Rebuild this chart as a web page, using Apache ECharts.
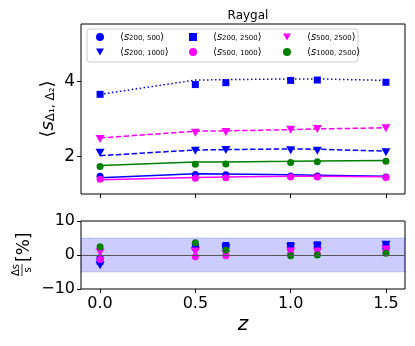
<!DOCTYPE html>
<html>
<head>
<meta charset="utf-8">
<script src="https://cdn.jsdelivr.net/npm/echarts@6/dist/echarts.min.js"></script>
<style>
  html, body { margin: 0; padding: 0; background: #fff; }
  #chart { width: 415px; height: 346px; }
</style>
</head>
<body>
<div id="chart"></div>
<script>
// redshift of the snapshots
var zValues = [0, 0.5, 0.66, 1.0, 1.14, 1.5];
var zTicks = [0, 0.5, 1.0, 1.5];
var sTicks = [2, 4];
var dTicks = [-10, 0, 10];

// <s> measured (markers)
var s200_500 = [1.47, 1.52, 1.51, 1.48, 1.48, 1.45];
var s200_1000 = [2.10, 2.15, 2.17, 2.16, 2.15, 2.11];
var s200_2500 = [3.65, 3.91, 3.96, 4.02, 4.03, 3.97];
var s500_1000 = [1.39, 1.42, 1.43, 1.45, 1.45, 1.44];
var s500_2500 = [2.46, 2.63, 2.65, 2.71, 2.73, 2.75];
var s1000_2500 = [1.73, 1.79, 1.80, 1.84, 1.86, 1.87];

// <s> prediction (lines)
var p200_500 = [1.43, 1.54, 1.53, 1.51, 1.50, 1.47];
var p200_1000 = [2.02, 2.17, 2.18, 2.20, 2.19, 2.14];
var p200_2500 = [3.65, 4.03, 4.04, 4.06, 4.06, 4.02];
var p500_1000 = [1.38, 1.44, 1.45, 1.47, 1.47, 1.46];
var p500_2500 = [2.49, 2.67, 2.68, 2.71, 2.73, 2.76];
var p1000_2500 = [1.76, 1.85, 1.85, 1.87, 1.88, 1.89];

// relative difference in %
var d200_500 = [-0.8, 2.0, 2.5, 1.8, 2.0, 2.2];
var d200_1000 = [-3.0, 1.2, 2.0, 2.3, 2.5, 3.0];
var d200_2500 = [-1.8, 2.5, 2.8, 2.8, 3.0, 2.5];
var d500_1000 = [-1.3, -0.5, -0.2, 0.3, 0.3, 1.2];
var d500_2500 = [0.8, 1.0, 0.3, 1.0, 1.0, 1.6];
var d1000_2500 = [2.4, 3.6, 1.5, -0.2, 0.0, 0.5];

var seriesNames = ["s200_500", "s200_1000", "s200_2500", "s500_1000", "s500_2500", "s1000_2500"];
var seriesSubs = ["200, 500", "200, 1000", "200, 2500", "500, 1000", "500, 2500", "1000, 2500"];

var FONT = "DejaVu Sans";
var TRI_DOWN = "path://M0,0 L10,0 L5,9 Z";

var chart = echarts.init(document.getElementById("chart"), null, { renderer: "canvas" });

function pairs(ys) {
  return zValues.map(function(z, i) { return [z, ys[i]]; });
}

var looks = [
  { color: "#0000ff", symbol: "circle", size: 7, line: "solid" },
  { color: "#0000ff", symbol: TRI_DOWN, size: [9, 8], line: [5.5, 2.4] },
  { color: "#0000ff", symbol: "rect", size: 7, line: [1.5, 2.5] },
  { color: "#ff00ff", symbol: "circle", size: 7, line: "solid" },
  { color: "#ff00ff", symbol: TRI_DOWN, size: [9, 8], line: [5.5, 2.4] },
  { color: "#008000", symbol: "circle", size: 7, line: "solid" }
];
var measured = [s200_500, s200_1000, s200_2500, s500_1000, s500_2500, s1000_2500];
var predicted = [p200_500, p200_1000, p200_2500, p500_1000, p500_2500, p1000_2500];
var diffs = [d200_500, d200_1000, d200_2500, d500_1000, d500_2500, d1000_2500];

var series = [];
// lines first, markers on top
predicted.forEach(function(ys, i) {
  series.push({
    name: seriesNames[i] + "_fit",
    type: "line",
    xAxisIndex: 0,
    yAxisIndex: 0,
    data: pairs(ys),
    showSymbol: false,
    silent: true,
    lineStyle: { color: looks[i].color, width: 1.5, type: looks[i].line },
    z: 2
  });
});
measured.forEach(function(ys, i) {
  series.push({
    name: seriesNames[i],
    type: "scatter",
    xAxisIndex: 0,
    yAxisIndex: 0,
    data: pairs(ys),
    symbol: looks[i].symbol,
    symbolSize: looks[i].size,
    itemStyle: { color: looks[i].color, opacity: 1 },
    z: 3
  });
});
diffs.forEach(function(ys, i) {
  var s = {
    name: seriesNames[i] + "_diff",
    type: "scatter",
    xAxisIndex: 1,
    yAxisIndex: 1,
    data: pairs(ys),
    symbol: looks[i].symbol,
    symbolSize: looks[i].size,
    itemStyle: { color: looks[i].color, opacity: 1 },
    z: 3
  };
  if (i == 0) {
    s.markArea = {
      silent: true,
      itemStyle: {
        color: "rgba(0,0,255,0.2)",
        borderColor: "rgba(0,0,255,0.25)",
        borderWidth: 1,
        borderType: "dotted"
      },
      data: [[{ yAxis: -5 }, { yAxis: 5 }]]
    };
    s.markLine = {
      silent: true,
      symbol: "none",
      label: { show: false },
      lineStyle: { color: "#555", width: 1, type: "solid" },
      data: [{ yAxis: 0 }]
    };
  }
  series.push(s);
});

var legendRich = {
  b: { fontFamily: FONT, fontSize: 10, color: "#000", padding: [0, 0, 0, 11] },
  s: { fontFamily: FONT, fontSize: 10, fontStyle: "italic", color: "#000" },
  sub: { fontFamily: FONT, fontSize: 7, color: "#000", lineHeight: 7, verticalAlign: "bottom" },
  e: { fontFamily: FONT, fontSize: 10, color: "#000" }
};

// legend: 3 columns, filled column by column
var legendPos = [[96, 32], [96, 47], [189, 32], [189, 47], [283, 32], [283, 47]];
var legends = seriesNames.map(function(name, i) {
  return {
    data: [name],
    left: legendPos[i][0],
    top: legendPos[i][1],
    padding: 0,
    itemWidth: 8,
    itemHeight: 8,
    selectedMode: false,
    z: 5,
    formatter: function() {
      return "{b|\u27e8}{s|s}{sub|" + seriesSubs[i] + "}{e|\u27e9}";
    },
    textStyle: { rich: legendRich }
  };
});

var option = {
  backgroundColor: "#fff",
  animation: false,
  textStyle: { fontFamily: FONT },
  title: {
    text: "Raygal",
    left: 243,
    top: 5,
    textAlign: "center",
    textStyle: { fontFamily: FONT, fontSize: 12, fontWeight: "normal", color: "#000" }
  },
  legend: legends,
  grid: [
    { left: 81, top: 24, width: 324, height: 170, show: true, borderColor: "#000", borderWidth: 1, backgroundColor: "transparent" },
    { left: 81, top: 221, width: 324, height: 68, show: true, borderColor: "#000", borderWidth: 1, backgroundColor: "transparent" }
  ],
  xAxis: [
    {
      gridIndex: 0,
      type: "value",
      min: -0.1,
      max: 1.6,
      axisLine: { show: false, onZero: false },
      splitLine: { show: false },
      axisTick: { show: true, inside: false, length: 4, customValues: zTicks, lineStyle: { color: "#000" } },
      axisLabel: { show: false }
    },
    {
      gridIndex: 1,
      type: "value",
      min: -0.1,
      max: 1.6,
      axisLine: { show: false, onZero: false },
      splitLine: { show: false },
      axisTick: { show: true, inside: false, length: 4, customValues: zTicks, lineStyle: { color: "#000" } },
      axisLabel: {
        customValues: zTicks,
        margin: 7,
        fontFamily: FONT,
        fontSize: 16,
        color: "#000",
        formatter: function(v) { return v.toFixed(1); }
      },
      name: "z",
      nameLocation: "middle",
      nameGap: 26,
      nameTextStyle: { fontFamily: FONT, fontSize: 20, fontStyle: "italic", color: "#000" }
    }
  ],
  yAxis: [
    {
      gridIndex: 0,
      type: "value",
      min: 1.0,
      max: 5.52,
      axisLine: { show: false, onZero: false },
      splitLine: { show: false },
      axisTick: { show: true, inside: false, length: 4, customValues: sTicks, lineStyle: { color: "#000" } },
      axisLabel: { customValues: sTicks, margin: 6, fontFamily: FONT, fontSize: 17, color: "#000" }
    },
    {
      gridIndex: 1,
      type: "value",
      min: -10,
      max: 10,
      interval: 10,
      axisLine: { show: false, onZero: false },
      splitLine: { show: false },
      axisTick: { show: true, inside: false, length: 4, customValues: dTicks, lineStyle: { color: "#000" } },
      axisLabel: {
        customValues: dTicks,
        margin: 6,
        fontFamily: FONT,
        fontSize: 16,
        color: "#000",
        formatter: function(v) { return v < 0 ? "\u2212" + Math.abs(v) : String(v); }
      }
    }
  ],
  graphic: [
    {
      type: "rect",
      z: 4,
      shape: { x: 87, y: 29, width: 271, height: 33, r: 3 },
      style: { fill: "rgba(255,255,255,0.8)", stroke: "#ccc", lineWidth: 1 }
    },
    {
      // top y label  <s_{Δ1,Δ2}>
      type: "text",
      x: 48,
      y: 109,
      rotation: Math.PI / 2,
      style: {
        text: "{b|\u27e8}{s|s}{sub|\u0394\u2081, \u0394\u2082}{b|\u27e9}",
        align: "center",
        verticalAlign: "middle",
        rich: {
          b: { fontFamily: FONT, fontSize: 18, fill: "#000" },
          s: { fontFamily: FONT, fontSize: 18, fontStyle: "italic", fill: "#000" },
          sub: { fontFamily: FONT, fontSize: 12, fill: "#000", lineHeight: 10, verticalAlign: "bottom" }
        }
      }
    },
    {
      // bottom y label  Δs/s [%]
      type: "group",
      x: 25,
      y: 255,
      rotation: Math.PI / 2,
      children: [
        { type: "text", x: -15, y: -4, style: { text: "\u0394s", fontFamily: FONT, fontSize: 10, fill: "#000", align: "center", verticalAlign: "bottom" } },
        { type: "line", shape: { x1: -21, y1: -3, x2: -9, y2: -3 }, style: { stroke: "#000", lineWidth: 0.8 } },
        { type: "text", x: -15, y: -2, style: { text: "s", fontFamily: FONT, fontSize: 10, fill: "#000", align: "center", verticalAlign: "top" } },
        { type: "text", x: -7, y: 0, style: { text: "[%]", fontFamily: FONT, fontSize: 17, fill: "#000", align: "left", verticalAlign: "middle" } }
      ]
    }
  ],
  series: series
};

chart.setOption(option);
</script>
</body>
</html>
